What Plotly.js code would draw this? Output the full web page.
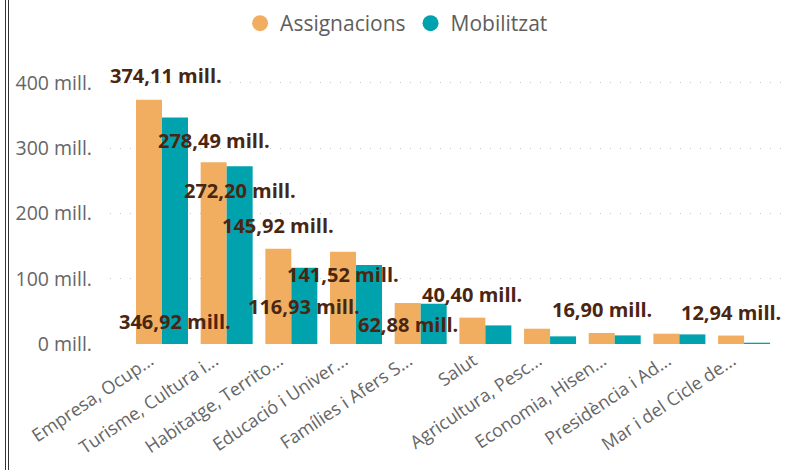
<!DOCTYPE html>
<html>
<head>
<meta charset="utf-8">
<script src="https://cdn.plot.ly/plotly-3.0.1.min.js"></script>
<style>
  html, body { margin: 0; padding: 0; background: #fff; }
  #chart { position: absolute; left: 0; top: 0; width: 798px; height: 470px; }
  #frame { position: absolute; left: 5px; top: 0; width: 0; height: 470px; border-left: 4px double #333; pointer-events: none; }
</style>
</head>
<body>
<div id="chart"></div>
<div id="frame"></div>
<script>
// ---- data ----
const categories = [
  "Empresa, Ocup...", "Turisme, Cultura i...", "Habitatge, Territo...", "Educació i Univer...",
  "Famílies i Afers S...", "Salut", "Agricultura, Pesc...", "Economia, Hisen...",
  "Presidència i Ad...", "Mar i del Cicle de..."
];
const assignacions = [374.11, 278.49, 145.92, 141.52, 62.88, 40.40, 23.4, 16.90, 15.8, 12.94];
const mobilitzat   = [346.92, 272.20, 116.93, 121.0, 61.5, 28.5, 11.7, 13.2, 14.7, 2.0];
const yTickVals = [0, 100, 200, 300, 400];
const yTickText = ["0 mill.", "100 mill.", "200 mill.", "300 mill.", "400 mill."];

// data labels shown (series, category index) with pixel offsets (style only)
const labelLayout = [
  { s: "A", i: 0, dx: 4,   dy: 24 },
  { s: "M", i: 0, dx: 13,  dy: -204 },
  { s: "A", i: 1, dx: -13, dy: 22 },
  { s: "M", i: 1, dx: 13,  dy: -24 },
  { s: "A", i: 2, dx: -13, dy: 23 },
  { s: "M", i: 2, dx: 13,  dy: -39 },
  { s: "A", i: 3, dx: -13, dy: -23 },
  { s: "A", i: 4, dx: -13, dy: -22 },
  { s: "A", i: 5, dx: -13, dy: 23 },
  { s: "A", i: 7, dx: -13, dy: 23 },
  { s: "A", i: 9, dx: -13, dy: 23 }
];

const cOrange = "#F2AE60";
const cTeal = "#00A2AD";
const fmt = v => v.toFixed(2).replace(".", ",") + " mill.";

const traces = [
  { type: "bar", name: "Assignacions", x: categories, y: assignacions,
    marker: { color: cOrange }, showlegend: false, hoverinfo: "none" },
  { type: "bar", name: "Mobilitzat", x: categories, y: mobilitzat,
    marker: { color: cTeal }, showlegend: false, hoverinfo: "none" },
  { type: "scatter", mode: "markers", name: "Assignacions", x: [null], y: [null],
    marker: { color: cOrange, size: 17, symbol: "circle" } },
  { type: "scatter", mode: "markers", name: "Mobilitzat", x: [null], y: [null],
    marker: { color: cTeal, size: 17, symbol: "circle" } }
];

const annotations = labelLayout.map(l => {
  const v = l.s === "A" ? assignacions[l.i] : mobilitzat[l.i];
  return {
    x: categories[l.i], y: v, xref: "x", yref: "y",
    text: fmt(v), showarrow: false,
    xanchor: "center", yanchor: "middle",
    xshift: l.dx, yshift: l.dy,
    font: { family: "Open Sans, Noto Sans, sans-serif", size: 20, color: "#4A2511", weight: 700 }
  };
});

const layout = {
  width: 798, height: 470,
  margin: { l: 110, r: 11, t: 60, b: 126 },
  paper_bgcolor: "#fff", plot_bgcolor: "#fff",
  barmode: "group", bargap: 0.196, bargroupgap: 0,
  font: { family: "Open Sans, Noto Sans, sans-serif", color: "#666" },
  showlegend: true,
  legend: {
    orientation: "h", x: 0.497, xanchor: "center", xref: "container",
    y: 1 - 3 / 470, yanchor: "top", yref: "container",
    font: { family: "Open Sans, Noto Sans, sans-serif", size: 21, color: "#605E5C" },
    itemwidth: 30, tracegroupgap: 0
  },
  xaxis: {
    type: "category", range: [-0.804, 9.664],
    tickangle: -34, tickfont: { size: 18, color: "#666" },
    ticklabelshift: -12, ticklabelstandoff: 2,
    showgrid: false, zeroline: false, showline: false, ticks: ""
  },
  yaxis: {
    range: [0, 435.2], tickvals: yTickVals, ticktext: yTickText,
    tickfont: { size: 19.5, color: "#666" },
    showgrid: true, gridcolor: "#C8C8C8", gridwidth: 1, griddash: "1px,9px",
    zeroline: false, showline: false, ticks: "", ticklabelstandoff: 17
  },
  annotations: annotations
};

Plotly.newPlot("chart", traces, layout, { displayModeBar: false, staticPlot: true });
</script>
</body>
</html>
